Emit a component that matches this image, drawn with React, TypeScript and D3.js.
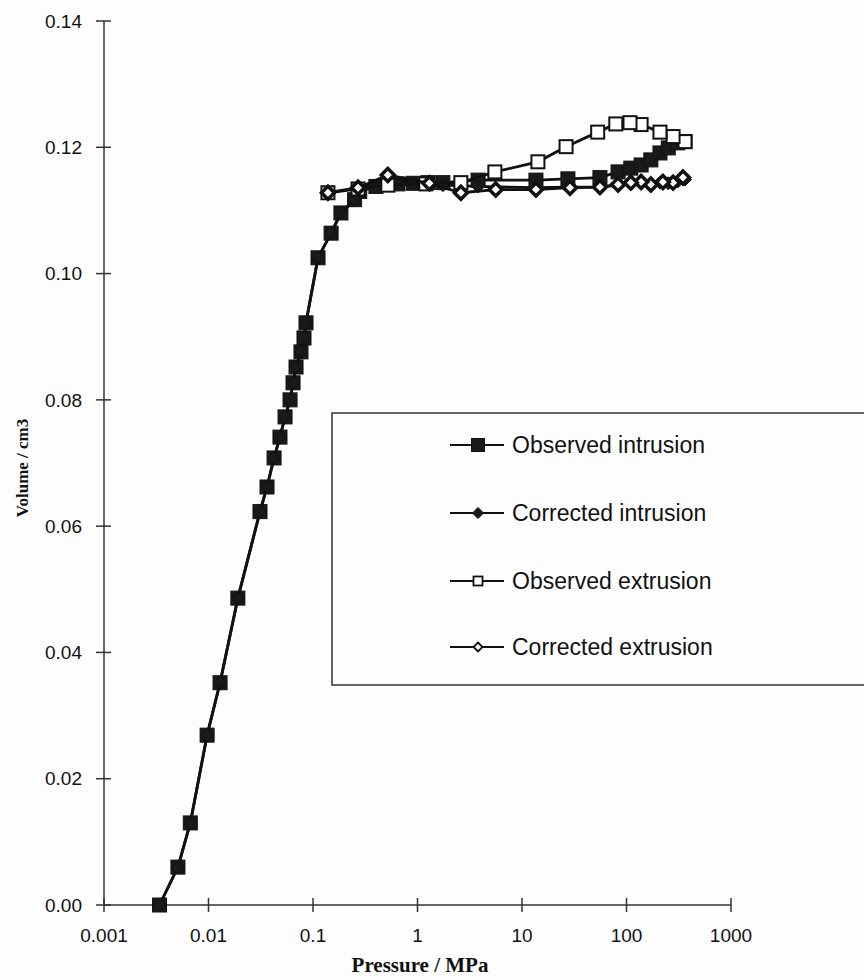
import { useEffect, useRef } from 'react'
import * as d3 from 'd3'

// pressure (MPa) / volume (cm3)
const obsIntrusionP = [0.0034, 0.0051, 0.0067, 0.0097, 0.0129, 0.0191, 0.0311, 0.0363, 0.0424, 0.0483, 0.054, 0.0603, 0.0644, 0.0688, 0.0767, 0.082, 0.0857, 0.1117, 0.149, 0.185, 0.25, 0.28, 0.4, 0.65, 0.91, 1.26, 1.75, 3.8, 13.6, 27.5, 55.7, 83, 110, 138, 171, 209, 251, 309, 363]
const obsIntrusionV = [0, 0.006, 0.013, 0.0269, 0.0352, 0.0486, 0.0623, 0.0662, 0.0708, 0.0741, 0.0773, 0.08, 0.0827, 0.0852, 0.0876, 0.0898, 0.0922, 0.1025, 0.1064, 0.1096, 0.1117, 0.113, 0.1138, 0.1142, 0.1143, 0.1144, 0.1144, 0.1148, 0.1148, 0.115, 0.1152, 0.1161, 0.1167, 0.1172, 0.118, 0.1191, 0.1199, 0.1207, 0.1209]

const corIntrusionP = [0.0034, 0.0051, 0.0067, 0.0097, 0.0129, 0.0191, 0.0311, 0.0363, 0.0424, 0.0483, 0.054, 0.0603, 0.0644, 0.0688, 0.0767, 0.082, 0.0857, 0.1117, 0.149, 0.185, 0.25, 0.28, 0.52, 0.91, 1.75, 3.8, 13.6, 27.5, 55.7, 83, 110, 138, 171, 209, 251, 309, 363]
const corIntrusionV = [0, 0.006, 0.013, 0.0269, 0.0352, 0.0486, 0.0623, 0.0662, 0.0708, 0.0741, 0.0773, 0.08, 0.0827, 0.0852, 0.0876, 0.0898, 0.0922, 0.1025, 0.1064, 0.1096, 0.1117, 0.1132, 0.1156, 0.1142, 0.114, 0.1138, 0.1136, 0.1137, 0.1137, 0.114, 0.1142, 0.1143, 0.1142, 0.1144, 0.1143, 0.1146, 0.1149]

const obsExtrusionP = [363, 279, 209, 138, 108, 79, 53, 26.4, 14.2, 5.5, 2.6, 1.2, 0.52, 0.27, 0.139]
const obsExtrusionV = [0.1209, 0.1217, 0.1224, 0.1236, 0.1239, 0.1237, 0.1224, 0.1201, 0.1177, 0.1161, 0.1144, 0.1142, 0.114, 0.1134, 0.1128]

const corExtrusionP = [347, 279, 223, 171, 138, 110, 83, 55.7, 28.8, 13.6, 5.6, 2.6, 1.3, 0.52, 0.27, 0.139]
const corExtrusionV = [0.1152, 0.1144, 0.1145, 0.1141, 0.1145, 0.1144, 0.1141, 0.1137, 0.1136, 0.1133, 0.1133, 0.1128, 0.1143, 0.1156, 0.1136, 0.1128]

const xTicks = [0.001, 0.01, 0.1, 1, 10, 100, 1000]
const xTickLabels = ['0.001', '0.01', '0.1', '1', '10', '100', '1000']
const yTicks = [0, 0.02, 0.04, 0.06, 0.08, 0.1, 0.12, 0.14]

const seriesNames = ['Observed intrusion', 'Corrected intrusion', 'Observed extrusion', 'Corrected extrusion']

type MarkerKind = 'fsquare' | 'fdiamond' | 'osquare' | 'odiamond'

export default function App() {
  const svgRef = useRef<SVGSVGElement>(null)

  useEffect(() => {
    if (!svgRef.current) return
    const svg = d3.select(svgRef.current)
    svg.selectAll('*').remove()

    const ink = '#111'
    const axisX = 104
    const axisY = 905

    const x = d3.scaleLog().domain([0.001, 1000]).range([axisX, 731])
    const y = d3.scaleLinear().domain([0, 0.14]).range([axisY, 21])

    svg.append('rect').attr('width', 864).attr('height', 980).attr('fill', '#fdfdfd')

    // axes
    const g = svg.append('g')
    g.append('line')
      .attr('x1', axisX).attr('x2', axisX)
      .attr('y1', y(0.14)).attr('y2', axisY)
      .attr('stroke', '#333').attr('stroke-width', 1.5)
    g.append('line')
      .attr('x1', axisX).attr('x2', x(1000))
      .attr('y1', axisY).attr('y2', axisY)
      .attr('stroke', '#333').attr('stroke-width', 1.5)

    g.selectAll('.ytick')
      .data(yTicks)
      .enter()
      .append('line')
      .attr('x1', axisX - 8).attr('x2', axisX + 7)
      .attr('y1', d => y(d)).attr('y2', d => y(d))
      .attr('stroke', '#333').attr('stroke-width', 1.5)

    g.selectAll('.ylabel')
      .data(yTicks)
      .enter()
      .append('text')
      .attr('x', axisX - 22)
      .attr('y', d => y(d))
      .attr('dy', '0.35em')
      .attr('text-anchor', 'end')
      .attr('font-family', 'Liberation Sans, Arial, sans-serif')
      .attr('font-size', 19)
      .attr('fill', ink)
      .text(d => d.toFixed(2))

    g.selectAll('.xtick')
      .data(xTicks)
      .enter()
      .append('line')
      .attr('x1', d => x(d)).attr('x2', d => x(d))
      .attr('y1', axisY - 7).attr('y2', axisY + 7)
      .attr('stroke', '#333').attr('stroke-width', 1.5)

    g.selectAll('.xlabel')
      .data(xTicks)
      .enter()
      .append('text')
      .attr('x', d => x(d))
      .attr('y', axisY + 37)
      .attr('text-anchor', 'middle')
      .attr('font-family', 'Liberation Sans, Arial, sans-serif')
      .attr('font-size', 19)
      .attr('fill', ink)
      .text((d, i) => xTickLabels[i])

    // axis titles
    svg.append('text')
      .attr('x', 420)
      .attr('y', 972)
      .attr('text-anchor', 'middle')
      .attr('font-family', 'Liberation Serif, Times New Roman, serif')
      .attr('font-weight', 'bold')
      .attr('font-size', 21)
      .attr('fill', ink)
      .text('Pressure / MPa')

    svg.append('text')
      .attr('transform', 'translate(28,468) rotate(-90)')
      .attr('text-anchor', 'middle')
      .attr('font-family', 'Liberation Serif, Times New Roman, serif')
      .attr('font-weight', 'bold')
      .attr('font-size', 17)
      .attr('fill', ink)
      .text('Volume / cm3')

    // markers
    const drawMarker = (sel: any, kind: MarkerKind, cx: number, cy: number, s: number) => {
      if (kind === 'fsquare' || kind === 'osquare') {
        const open = kind === 'osquare'
        sel.append('rect')
          .attr('x', cx - s / 2).attr('y', cy - s / 2)
          .attr('width', s).attr('height', s)
          .attr('fill', open ? '#fff' : '#1a1a1a')
          .attr('stroke', '#111')
          .attr('stroke-width', open ? 2 : 1)
      } else {
        const open = kind === 'odiamond'
        const r = s / 2
        sel.append('path')
          .attr('d', `M${cx},${cy - r}L${cx + r},${cy}L${cx},${cy + r}L${cx - r},${cy}Z`)
          .attr('fill', open ? '#fff' : '#1a1a1a')
          .attr('stroke', '#111')
          .attr('stroke-width', open ? 3.5 : 1)
      }
    }

    const line = d3.line<[number, number]>()
      .x(d => x(d[0]))
      .y(d => y(d[1]))

    const series: { p: number[]; v: number[]; kind: MarkerKind; size: number }[] = [
      { p: obsIntrusionP, v: obsIntrusionV, kind: 'fsquare', size: 14 },
      { p: corIntrusionP, v: corIntrusionV, kind: 'fdiamond', size: 13 },
      { p: obsExtrusionP, v: obsExtrusionV, kind: 'osquare', size: 13 },
      { p: corExtrusionP, v: corExtrusionV, kind: 'odiamond', size: 13 },
    ]

    series.forEach(s => {
      const pts = s.p.map((p, i) => [p, s.v[i]] as [number, number])
      const sg = svg.append('g')
      sg.append('path')
        .attr('d', line(pts))
        .attr('fill', 'none')
        .attr('stroke', ink)
        .attr('stroke-width', 2.8)
      pts.forEach(d => drawMarker(sg, s.kind, x(d[0]), y(d[1]), s.size))
    })

    // legend
    const lg = svg.append('g')
    lg.append('rect')
      .attr('x', 332).attr('y', 413)
      .attr('width', 560).attr('height', 272)
      .attr('fill', 'none')
      .attr('stroke', '#333')
      .attr('stroke-width', 1.5)

    const legendY = [445, 513, 581, 647]
    const legendKinds: MarkerKind[] = ['fsquare', 'fdiamond', 'osquare', 'odiamond']
    const legendSizes = [13, 11, 9, 9]
    seriesNames.forEach((name, i) => {
      const ly = legendY[i]
      lg.append('line')
        .attr('x1', 450).attr('x2', 504)
        .attr('y1', ly).attr('y2', ly)
        .attr('stroke', ink).attr('stroke-width', 2)
      const kind = legendKinds[i]
      if (kind === 'odiamond') {
        const r = legendSizes[i] / 2
        lg.append('path')
          .attr('d', `M478,${ly - r}L${478 + r},${ly}L478,${ly + r}L${478 - r},${ly}Z`)
          .attr('fill', '#fff').attr('stroke', ink).attr('stroke-width', 1.8)
      } else if (kind === 'osquare') {
        const s = legendSizes[i]
        lg.append('rect')
          .attr('x', 478 - s / 2).attr('y', ly - s / 2)
          .attr('width', s).attr('height', s)
          .attr('fill', '#fff').attr('stroke', ink).attr('stroke-width', 1.8)
      } else {
        drawMarker(lg, kind, 478, ly, legendSizes[i])
      }
      lg.append('text')
        .attr('x', 512)
        .attr('y', ly)
        .attr('dy', '0.35em')
        .attr('font-family', 'Liberation Sans, Arial, sans-serif')
        .attr('font-size', 23)
        .attr('fill', ink)
        .text(name)
    })
  }, [])

  return (
    <svg
      ref={svgRef}
      width={864}
      height={980}
      style={{ position: 'absolute', left: 0, top: 0 }}
    />
  )
}
